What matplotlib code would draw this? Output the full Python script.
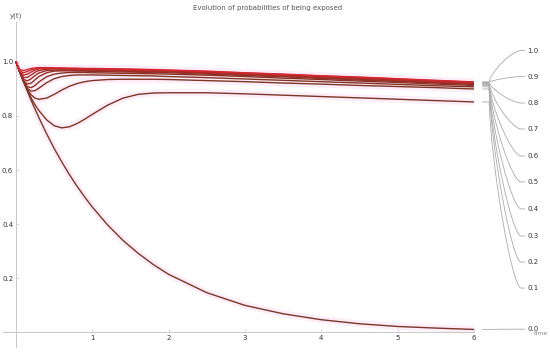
import numpy as np
import matplotlib
matplotlib.use("Agg")
import matplotlib.pyplot as plt
from matplotlib.path import Path
from matplotlib.patches import PathPatch
from matplotlib.colors import LinearSegmentedColormap

# Parameter values (one curve each) and the common time grid
params = [0.0, 0.1, 0.2, 0.3, 0.4, 0.5, 0.6, 0.7, 0.8, 0.9, 1.0]
t = [0, 0.05, 0.1, 0.15, 0.2, 0.25, 0.3, 0.4, 0.5, 0.6, 0.7, 0.8, 0.9, 1.0,
     1.2, 1.4, 1.6, 1.8, 2.0, 2.5, 3, 3.5, 4, 4.5, 5, 5.5, 6]

# y(t), one list per parameter
y_00 = [1.0, 0.962, 0.926, 0.891, 0.857, 0.825, 0.794, 0.735, 0.680, 0.630, 0.583, 0.540, 0.500, 0.463,
        0.397, 0.340, 0.292, 0.250, 0.214, 0.146, 0.099, 0.068, 0.046, 0.031, 0.021, 0.015, 0.010]
y_01 = [1.0, 0.962, 0.927, 0.895, 0.866, 0.841, 0.820, 0.786, 0.764, 0.756, 0.760, 0.772, 0.788, 0.806,
        0.840, 0.866, 0.880, 0.885, 0.886, 0.886, 0.882, 0.877, 0.872, 0.867, 0.862, 0.857, 0.852]
y_02 = [1.0, 0.962, 0.927, 0.898, 0.878, 0.866, 0.862, 0.866, 0.880, 0.896, 0.910, 0.920, 0.927, 0.931,
        0.935, 0.936, 0.936, 0.936, 0.935, 0.931, 0.927, 0.922, 0.918, 0.913, 0.909, 0.905, 0.900]
y_03 = [1.0, 0.962, 0.927, 0.902, 0.892, 0.894, 0.903, 0.923, 0.938, 0.946, 0.950, 0.952, 0.952, 0.952,
        0.951, 0.950, 0.949, 0.948, 0.946, 0.942, 0.937, 0.932, 0.927, 0.922, 0.917, 0.912, 0.908]
y_04 = [1.0, 0.962, 0.928, 0.908, 0.905, 0.913, 0.926, 0.945, 0.955, 0.959, 0.961, 0.961, 0.961, 0.960,
        0.959, 0.958, 0.957, 0.956, 0.955, 0.951, 0.946, 0.940, 0.935, 0.929, 0.924, 0.918, 0.913]
y_05 = [1.0, 0.962, 0.930, 0.918, 0.922, 0.934, 0.946, 0.960, 0.966, 0.967, 0.967, 0.966, 0.966, 0.965,
        0.964, 0.963, 0.962, 0.961, 0.960, 0.955, 0.950, 0.945, 0.939, 0.933, 0.928, 0.922, 0.917]
y_06 = [1.0, 0.962, 0.935, 0.930, 0.938, 0.950, 0.959, 0.968, 0.970, 0.970, 0.970, 0.969, 0.969, 0.968,
        0.967, 0.966, 0.965, 0.964, 0.963, 0.958, 0.953, 0.948, 0.942, 0.936, 0.930, 0.925, 0.920]
y_07 = [1.0, 0.963, 0.942, 0.943, 0.952, 0.962, 0.968, 0.973, 0.974, 0.973, 0.973, 0.972, 0.972, 0.971,
        0.970, 0.969, 0.968, 0.967, 0.965, 0.961, 0.956, 0.951, 0.945, 0.939, 0.933, 0.927, 0.922]
y_08 = [1.0, 0.964, 0.951, 0.955, 0.963, 0.970, 0.974, 0.976, 0.976, 0.975, 0.975, 0.974, 0.974, 0.973,
        0.972, 0.971, 0.970, 0.969, 0.967, 0.963, 0.958, 0.953, 0.947, 0.941, 0.935, 0.929, 0.924]
y_09 = [1.0, 0.966, 0.960, 0.965, 0.971, 0.975, 0.977, 0.977, 0.977, 0.976, 0.976, 0.975, 0.975, 0.975,
        0.974, 0.973, 0.972, 0.971, 0.969, 0.965, 0.959, 0.954, 0.948, 0.943, 0.937, 0.931, 0.925]
y_10 = [1.0, 0.972, 0.968, 0.972, 0.976, 0.978, 0.979, 0.979, 0.978, 0.978, 0.977, 0.977, 0.976, 0.976,
        0.975, 0.974, 0.973, 0.972, 0.970, 0.966, 0.960, 0.955, 0.949, 0.944, 0.938, 0.932, 0.926]
curves = [y_00, y_01, y_02, y_03, y_04, y_05, y_06, y_07, y_08, y_09, y_10]

legend_labels = ["0.0", "0.1", "0.2", "0.3", "0.4", "0.5", "0.6", "0.7", "0.8", "0.9", "1.0"]
label_y = [0.011, 0.163, 0.259, 0.356, 0.456, 0.556, 0.652, 0.752, 0.848, 0.946, 1.042]

x_ticks = [1, 2, 3, 4, 5, 6]
y_ticks = [0.2, 0.4, 0.6, 0.8, 1.0]

fig = plt.figure(figsize=(5.5, 3.56), dpi=100)
ax = fig.add_axes([0.0055, 0.0253, 0.856, 0.913])
ax.set_xlim(-0.17, 6.0)
ax.set_ylim(-0.055, 1.148)

cmap = LinearSegmentedColormap.from_list("rb", ["#7a3626", "#833424", "#a02c26", "#d42830"])

# soft pink halo behind the curves
for y in curves:
    ax.plot(t, y, color="#fdedf8", lw=5, solid_capstyle="butt", zorder=1)
for i, y in enumerate(curves):
    ax.plot(t, y, color=cmap(params[i]), lw=1.0, zorder=3)

# axes in the Mathematica style
for s in ["top", "right"]:
    ax.spines[s].set_visible(False)
ax.spines["left"].set_position(("data", 0))
ax.spines["bottom"].set_position(("data", 0))
for s in ["left", "bottom"]:
    ax.spines[s].set_color("#c8c8c8")
    ax.spines[s].set_linewidth(0.7)
ax.set_xticks(x_ticks)
ax.set_yticks(y_ticks)
ax.set_xticklabels([str(v) for v in x_ticks])
ax.set_yticklabels(["%.1f" % v for v in y_ticks])
ax.tick_params(axis="both", length=2, width=0.5, color="#c8c8c8", labelsize=5, labelcolor="#333333", pad=2)
ax.tick_params(axis="x", direction="in")
ax.tick_params(axis="y", direction="in")

ax.text(0.0, 1.17, "y(t)", fontsize=5, color="#555555", ha="center", va="center", clip_on=False)
ax.text(6.88, -0.006, "time", fontsize=4.5, color="#888888", ha="center", va="center", clip_on=False)
fig.text(268 / 550, 1 - 8 / 356, "Evolution of probabilities of being exposed",
         fontsize=5.0, color="#555555", ha="center", va="center")

# callout leaders from the curve ends to the labels
x_a, x_b, x_c, x_d = 6.11, 6.2, 6.62, 6.67
for i, y in enumerate(curves):
    y0 = y[-1]
    y1 = label_y[i]
    verts = [(x_a, y0), (x_b, y0), (x_b + 0.03, y0 + 0.35 * (y1 - y0)), (x_c - 0.12, y1), (x_c, y1), (x_d, y1)]
    codes = [Path.MOVETO, Path.LINETO, Path.CURVE4, Path.CURVE4, Path.CURVE4, Path.LINETO]
    ax.add_patch(PathPatch(Path(verts, codes), fill=False, edgecolor="#aaaaaa", lw=0.6, clip_on=False))
    ax.text(x_d + 0.03, y1, legend_labels[i], fontsize=5, color="#333333", ha="left", va="center", clip_on=False)

fig.savefig("out.png", dpi=100)
